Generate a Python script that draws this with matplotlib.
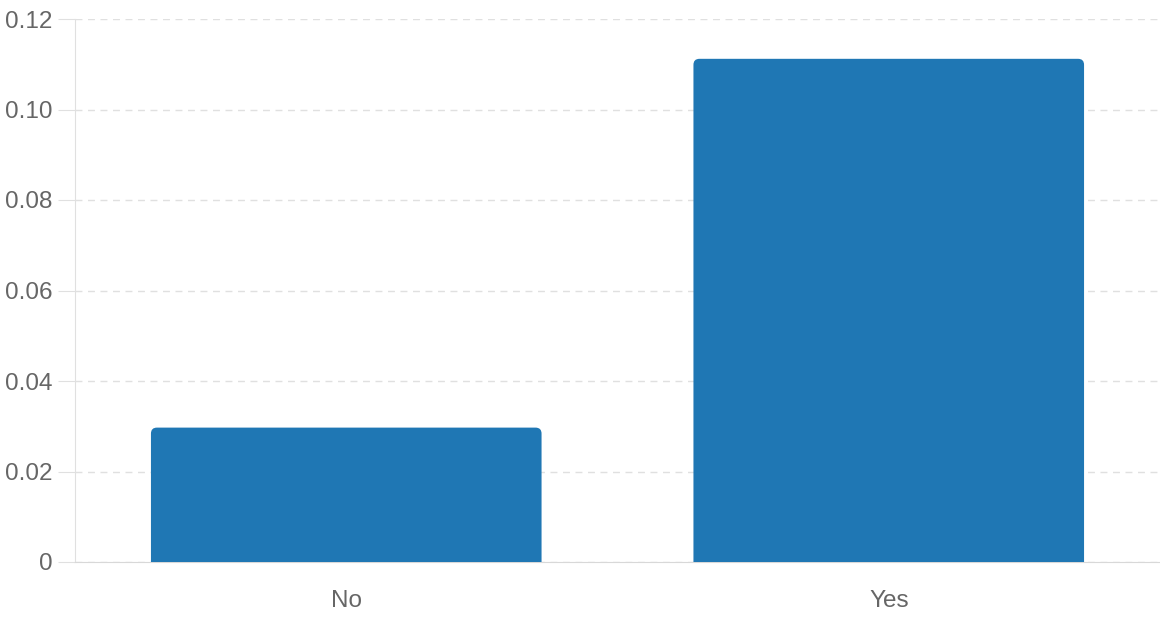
import matplotlib
matplotlib.use("Agg")
import matplotlib.pyplot as plt
from matplotlib.patches import FancyBboxPatch

categories = ["No", "Yes"]
values = [0.0297, 0.1112]
yticks = [0, 0.02, 0.04, 0.06, 0.08, 0.10, 0.12]
ytick_labels = ["0", "0.02", "0.04", "0.06", "0.08", "0.10", "0.12"]

bar_color = "#1f77b4"
grid_color = "#e0e0e0"
text_color = "#666666"

plt.rcParams['font.family'] = ['Liberation Sans', 'DejaVu Sans']

fig = plt.figure(figsize=(11.6, 6.2), dpi=100)
ax = fig.add_axes([75/1160, 1 - 562/620, 1 - 75/1160, (562 - 19)/620])

xs = list(range(len(categories)))
bars = ax.bar(xs, values, width=0.72, color=bar_color, alpha=0)
# redraw with rounded top corners; bottom corners pushed below 0 and clipped
for b in bars:
    p = FancyBboxPatch((b.get_x(), -0.005), b.get_width(), b.get_height() + 0.005,
                       boxstyle="round,pad=0,rounding_size=0.011",
                       mutation_aspect=0.12, facecolor=bar_color,
                       edgecolor="none", zorder=3)
    ax.add_patch(p)

ax.set_xlim(-0.5, 1.5)
ax.set_ylim(0, 0.12)
ax.set_xticks(xs)
ax.set_xticklabels(categories)
ax.set_yticks(yticks)
ax.set_yticklabels(ytick_labels)

ax.yaxis.grid(True, color=grid_color, linestyle=(0, (5, 4)), linewidth=1)
ax.set_axisbelow(True)
for s in ["top", "right"]:
    ax.spines[s].set_visible(False)
ax.spines["left"].set_color(grid_color)
ax.spines["bottom"].set_color("#d8d8d8")
ax.tick_params(axis="y", length=12, color=grid_color, labelcolor=text_color,
               labelsize=17.5, pad=4)
ax.tick_params(axis="x", length=0, labelcolor=text_color, labelsize=17.5, pad=20)

plt.savefig("out.png", dpi=100)
plt.close()
